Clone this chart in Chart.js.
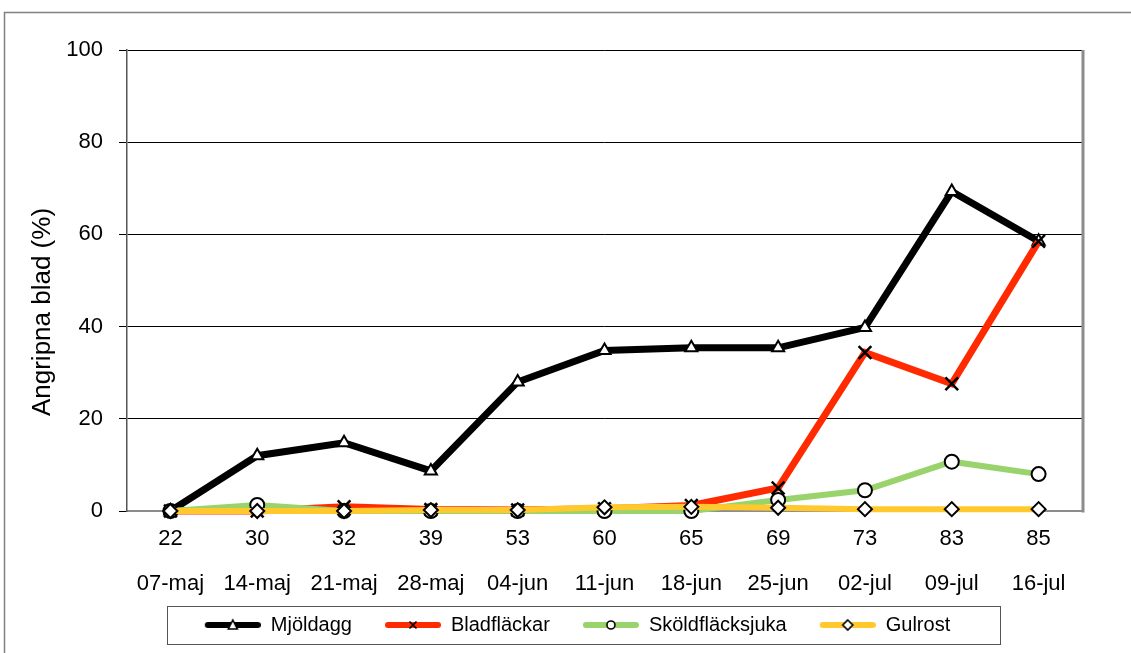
<!DOCTYPE html>
<html>
<head>
<meta charset="utf-8">
<script src="https://cdn.jsdelivr.net/npm/chart.js@4/dist/chart.umd.min.js"></script>
<style>
  html, body { margin: 0; padding: 0; background: #fff; }
  #wrap { width: 1131px; height: 653px; }
</style>
</head>
<body>
<div id="wrap"><canvas id="chart" width="1131" height="653"></canvas></div>
<script>
/* ══════════════════════════════════════
   DATA
══════════════════════════════════════ */
const stages = ["22", "30", "32", "39", "53", "60", "65", "69", "73", "83", "85"];
const dates = ["07-maj", "14-maj", "21-maj", "28-maj", "04-jun", "11-jun", "18-jun", "25-jun", "02-jul", "09-jul", "16-jul"];

const mjoldagg = [0, 12, 14.8, 8.7, 28, 34.8, 35.4, 35.4, 39.8, 69.3, 58.5];
const bladflackar = [0, 0, 0.9, 0.3, 0.2, 0.5, 1.2, 5, 34.4, 27.6, 58.5];
const skoldflacksjuka = [0, 1.3, 0, 0, 0, 0, 0, 2.4, 4.5, 10.7, 8];
const gulrost = [0, 0, 0, 0.2, 0.2, 0.8, 0.9, 0.7, 0.4, 0.4, 0.4];

const yTicks = [0, 20, 40, 60, 80, 100];
const yTitle = "Angripna blad (%)";

/* ══════════════════════════════════════
   LEGEND SAMPLE (line + marker)
   blank strip on the left widens the gap between items
══════════════════════════════════════ */
const SAMPLE_GAP = 23;
const LEGEND_SHIFT = 13;

function legendSample(color, marker) {
  const c = document.createElement("canvas");
  c.width = 56 + SAMPLE_GAP;
  c.height = 16;
  const ctx = c.getContext("2d");
  ctx.translate(SAMPLE_GAP, 0);

  ctx.strokeStyle = color;
  ctx.lineWidth = 6;
  ctx.lineCap = "round";
  ctx.beginPath();
  ctx.moveTo(3, 8);
  ctx.lineTo(53, 8);
  ctx.stroke();

  ctx.strokeStyle = "#000";
  ctx.fillStyle = "#fff";
  ctx.lineWidth = 1.6;
  ctx.lineCap = "butt";
  ctx.beginPath();

  if (marker === "triangle") {
    ctx.moveTo(28, 3);
    ctx.lineTo(32.5, 12);
    ctx.lineTo(23.5, 12);
    ctx.closePath();
    ctx.fill();
    ctx.stroke();
  } else if (marker === "cross") {
    ctx.moveTo(24.5, 4.5);
    ctx.lineTo(31.5, 11.5);
    ctx.moveTo(31.5, 4.5);
    ctx.lineTo(24.5, 11.5);
    ctx.stroke();
  } else if (marker === "circle") {
    ctx.arc(28, 8, 4, 0, Math.PI * 2);
    ctx.fill();
    ctx.stroke();
  } else {
    ctx.moveTo(28, 3);
    ctx.lineTo(33, 8);
    ctx.lineTo(28, 13);
    ctx.lineTo(23, 8);
    ctx.closePath();
    ctx.fill();
    ctx.stroke();
  }
  return c;
}

const samples = [
  legendSample("#000000", "triangle"),
  legendSample("#ff2a00", "cross"),
  legendSample("#99d36b", "circle"),
  legendSample("#ffc92e", "diamond"),
];

/* ══════════════════════════════════════
   FRAMES + Y TITLE
══════════════════════════════════════ */
const framePlugin = {
  id: "frames",
  afterLayout(chart) {
    // legend is centred a bit right of the plot in the original
    chart.legend.left += LEGEND_SHIFT;
    chart.legend.right += LEGEND_SHIFT;
  },
  beforeDraw(chart) {
    const ctx = chart.ctx;
    ctx.save();
    ctx.strokeStyle = "#808080";
    ctx.lineWidth = 1.5;
    ctx.strokeRect(4.5, 12.5, 2000, 2000);
    ctx.restore();
  },
  afterDraw(chart) {
    const ctx = chart.ctx;
    const a = chart.chartArea;
    ctx.save();

    // right edge of plot
    ctx.strokeStyle = "#8c8c8c";
    ctx.lineWidth = 3;
    ctx.beginPath();
    ctx.moveTo(a.right + 1, a.top);
    ctx.lineTo(a.right + 1, a.bottom + 1.5);
    ctx.stroke();

    // y title (sits lower than the axis centre in the original)
    ctx.fillStyle = "#000";
    ctx.font = "26px 'Liberation Sans', Arial, sans-serif";
    ctx.textAlign = "center";
    ctx.textBaseline = "middle";
    ctx.translate(43, 312);
    ctx.rotate(-Math.PI / 2);
    ctx.fillText(yTitle, 0, 0);
    ctx.setTransform(1, 0, 0, 1, 0, 0);

    // legend box
    const boxes = chart.legend.legendHitBoxes;
    if (boxes && boxes.length) {
      const left = Math.min(...boxes.map((b) => b.left)) + SAMPLE_GAP;
      const right = Math.max(...boxes.map((b) => b.left + b.width));
      const mid = boxes[0].top + boxes[0].height / 2;
      ctx.strokeStyle = "#555";
      ctx.lineWidth = 1;
      ctx.strokeRect(Math.round(left - 38) + 0.5, Math.round(mid - 19) + 0.5, Math.round(right - left + 88), 38);
    }
    ctx.restore();
  },
};

/* ══════════════════════════════════════
   CHART
══════════════════════════════════════ */
Chart.defaults.font.family = "'Liberation Sans', Arial, sans-serif";
Chart.defaults.color = "#000";

const defaultLabels = Chart.defaults.plugins.legend.labels.generateLabels;

function series(label, data, color, pointStyle, order, width) {
  return {
    label,
    data,
    borderColor: color,
    backgroundColor: color,
    borderWidth: width,
    tension: 0,
    order,
    pointStyle,
    pointRadius: 7,
    pointHoverRadius: 7,
    pointBackgroundColor: "#fff",
    pointBorderColor: "#000",
    pointBorderWidth: 2,
  };
}

const blad = series("Bladfläckar", bladflackar, "#ff2a00", "crossRot", 3, 7);
blad.pointRadius = 9;
blad.pointHoverRadius = 9;
blad.pointBorderWidth = 2.5;

new Chart(document.getElementById("chart"), {
  type: "line",

  data: {
    labels: stages.map((s, i) => [s, dates[i]]),

    datasets: [
      series("Mjöldagg", mjoldagg, "#000000", "triangle", 4, 7),
      blad,
      series("Sköldfläcksjuka", skoldflacksjuka, "#99d36b", "circle", 2, 6),
      series("Gulrost", gulrost, "#ffc92e", "rectRot", 1, 6),
    ],
  },

  options: {
    responsive: false,
    animation: false,
    clip: false,

    layout: {
      padding: { left: 24, right: 49, top: 50, bottom: 8 },
    },

    plugins: {
      tooltip: { enabled: false },
      legend: {
        position: "bottom",
        labels: {
          usePointStyle: true,
          pointStyleWidth: 56 + SAMPLE_GAP,
          padding: 10,
          font: { size: 20 },
          color: "#000",
          sort: (a, b) => a.datasetIndex - b.datasetIndex,
          generateLabels(chart) {
            return defaultLabels(chart).map((item) => {
              item.pointStyle = samples[item.datasetIndex];
              return item;
            });
          },
        },
      },
    },

    scales: {
      x: {
        offset: true,
        afterFit(scale) {
          scale.height = 94;
        },
        grid: { display: false, drawTicks: false },
        border: { display: true, color: "#8c8c8c", width: 2 },
        ticks: {
          padding: 5.5,
          maxRotation: 0,
          autoSkip: false,
          font: { size: 22, lineHeight: 2.05 },
        },
      },

      y: {
        min: 0,
        max: 100,
        afterFit(scale) {
          scale.width = 103;
        },
        afterBuildTicks(scale) {
          scale.ticks = yTicks.map((v) => ({ value: v }));
        },
        grid: {
          color: "#000",
          lineWidth: 1,
          drawTicks: true,
          tickLength: 8,
        },
        border: { display: true, color: "#555", width: 1.5 },
        ticks: {
          padding: 16,
          font: { size: 22 },
        },
      },
    },
  },

  plugins: [framePlugin],
});
</script>
</body>
</html>
